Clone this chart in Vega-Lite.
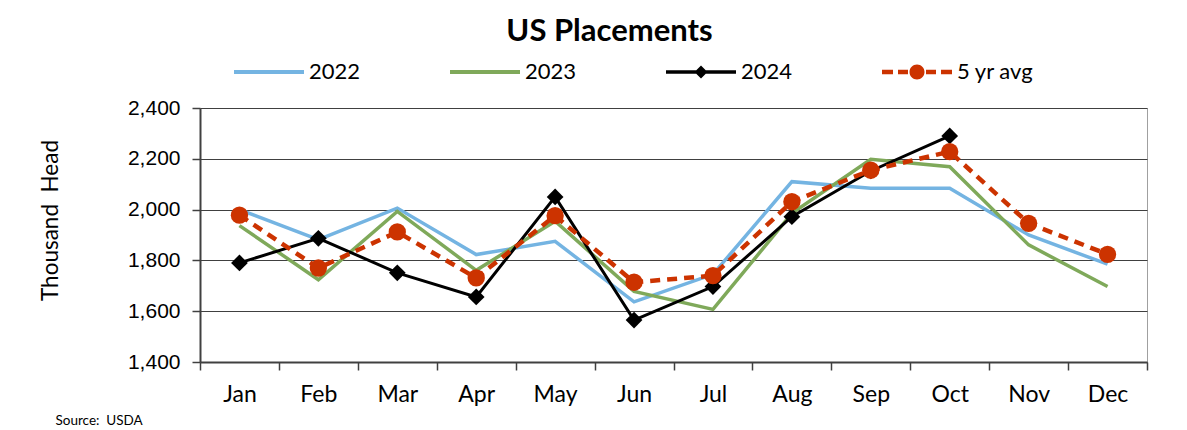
{
  "$schema": "https://vega.github.io/schema/vega-lite/v6.json",
  "width": 947,
  "height": 254,
  "autosize": {"type": "none"},
  "padding": {"left": 200, "top": 108, "right": 40, "bottom": 68},
  "background": "white",
  "title": {
    "text": "US Placements",
    "font": "Lato",
    "fontSize": 31,
    "fontWeight": "bold",
    "color": "black",
    "anchor": "middle",
    "frame": "group",
    "dx": -64,
    "offset": 13
  },
  "data": {
    "values": [
      {"month": "Jan", "series": "2022", "value": 2000},
      {"month": "Feb", "series": "2022", "value": 1882},
      {"month": "Mar", "series": "2022", "value": 2006},
      {"month": "Apr", "series": "2022", "value": 1823},
      {"month": "May", "series": "2022", "value": 1875},
      {"month": "Jun", "series": "2022", "value": 1637},
      {"month": "Jul", "series": "2022", "value": 1745},
      {"month": "Aug", "series": "2022", "value": 2110},
      {"month": "Sep", "series": "2022", "value": 2084},
      {"month": "Oct", "series": "2022", "value": 2084},
      {"month": "Nov", "series": "2022", "value": 1900},
      {"month": "Dec", "series": "2022", "value": 1785},
      {"month": "Jan", "series": "2023", "value": 1937},
      {"month": "Feb", "series": "2023", "value": 1724},
      {"month": "Mar", "series": "2023", "value": 1993},
      {"month": "Apr", "series": "2023", "value": 1761},
      {"month": "May", "series": "2023", "value": 1954},
      {"month": "Jun", "series": "2023", "value": 1678},
      {"month": "Jul", "series": "2023", "value": 1607},
      {"month": "Aug", "series": "2023", "value": 1985},
      {"month": "Sep", "series": "2023", "value": 2198},
      {"month": "Oct", "series": "2023", "value": 2169},
      {"month": "Nov", "series": "2023", "value": 1861},
      {"month": "Dec", "series": "2023", "value": 1697},
      {"month": "Jan", "series": "2024", "value": 1790},
      {"month": "Feb", "series": "2024", "value": 1887},
      {"month": "Mar", "series": "2024", "value": 1751},
      {"month": "Apr", "series": "2024", "value": 1656},
      {"month": "May", "series": "2024", "value": 2050},
      {"month": "Jun", "series": "2024", "value": 1565},
      {"month": "Jul", "series": "2024", "value": 1697},
      {"month": "Aug", "series": "2024", "value": 1972},
      {"month": "Sep", "series": "2024", "value": 2152},
      {"month": "Oct", "series": "2024", "value": 2290},
      {"month": "Jan", "series": "5 yr avg", "value": 1978},
      {"month": "Feb", "series": "5 yr avg", "value": 1770},
      {"month": "Mar", "series": "5 yr avg", "value": 1912},
      {"month": "Apr", "series": "5 yr avg", "value": 1731},
      {"month": "May", "series": "5 yr avg", "value": 1976},
      {"month": "Jun", "series": "5 yr avg", "value": 1714},
      {"month": "Jul", "series": "5 yr avg", "value": 1740},
      {"month": "Aug", "series": "5 yr avg", "value": 2031},
      {"month": "Sep", "series": "5 yr avg", "value": 2155},
      {"month": "Oct", "series": "5 yr avg", "value": 2228},
      {"month": "Nov", "series": "5 yr avg", "value": 1946},
      {"month": "Dec", "series": "5 yr avg", "value": 1824}
    ]
  },
  "encoding": {
    "x": {
      "field": "month",
      "type": "ordinal",
      "bandPosition": 0.5,
      "scale": {
        "type": "band",
        "domain": ["Jan", "Feb", "Mar", "Apr", "May", "Jun", "Jul", "Aug", "Sep", "Oct", "Nov", "Dec"],
        "paddingInner": 0,
        "paddingOuter": 0
      },
      "axis": {
        "title": "Source:\u00a0\u00a0USDA",
        "titleFont": "Lato",
        "titleFontSize": 13.5,
        "titleFontWeight": "normal",
        "titleColor": "black",
        "titleX": -145,
        "titleY": 58,
        "titleAlign": "left",
        "titleBaseline": "middle",
        "titleAngle": 0,
        "labelAngle": 0,
        "labelFont": "Lato",
        "labelFontSize": 23,
        "labelColor": "black",
        "labelPadding": 13,
        "tickBand": "extent",
        "tickSize": 8,
        "tickColor": "#404040",
        "tickWidth": 1.5,
        "domainColor": "#404040",
        "domainWidth": 2,
        "grid": false
      }
    },
    "y": {
      "field": "value",
      "type": "quantitative",
      "scale": {"domain": [1400, 2400], "nice": false, "zero": false},
      "axis": {
        "title": "Thousand\u00a0\u00a0Head",
        "titleFont": "Lato",
        "titleFontSize": 22.5,
        "titleFontWeight": "normal",
        "titleColor": "black",
        "titleX": -150,
        "titleY": 112,
        "titleAngle": -90,
        "titleAlign": "center",
        "titleBaseline": "middle",
        "values": [1400, 1600, 1800, 2000, 2200, 2400],
        "format": ",.0f",
        "labelFont": "Liberation Sans",
        "labelFontSize": 21,
        "labelColor": "black",
        "labelPadding": 12,
        "tickSize": 8,
        "tickColor": "#404040",
        "tickWidth": 1.5,
        "domainColor": "#404040",
        "domainWidth": 2,
        "grid": true,
        "gridColor": "#404040",
        "gridWidth": 1.2
      }
    }
  },
  "layer": [
    {
      "transform": [{"filter": "datum.series == '2022'"}],
      "mark": {"type": "line", "color": "#74B4E2", "strokeWidth": 3.5}
    },
    {
      "transform": [{"filter": "datum.series == '2023'"}],
      "mark": {"type": "line", "color": "#7FA95A", "strokeWidth": 3.5}
    },
    {
      "transform": [{"filter": "datum.series == '2024'"}],
      "mark": {"type": "line", "color": "black", "strokeWidth": 3}
    },
    {
      "transform": [{"filter": "datum.series == '2024'"}],
      "mark": {"type": "point", "shape": "diamond", "filled": true, "color": "black", "size": 280, "opacity": 1}
    },
    {
      "transform": [{"filter": "datum.series == '5 yr avg'"}],
      "mark": {"type": "line", "color": "#CC3300", "strokeWidth": 4.5, "strokeDash": [10, 7]}
    },
    {
      "transform": [{"filter": "datum.series == '5 yr avg'"}],
      "mark": {"type": "point", "shape": "circle", "filled": true, "color": "#CC3300", "size": 300, "opacity": 1}
    },
    {
      "transform": [{"filter": "datum.series == 'none'"}],
      "mark": {"type": "point", "filled": true, "opacity": 1},
      "encoding": {
        "fill": {
          "field": "series",
          "type": "nominal",
          "scale": {"domain": ["2022", "2023", "2024", "5 yr avg"], "range": ["#74B4E2", "#7FA95A", "black", "#CC3300"]},
          "legend": {"title": null}
        },
        "shape": {
          "field": "series",
          "type": "nominal",
          "scale": {
            "domain": ["2022", "2023", "2024", "5 yr avg"],
            "range": [
              "M-1,-0.2H6V0.2H-1Z",
              "M-1,-0.2H6V0.2H-1Z",
              "M-1,-0.18H6V0.18H-1Z M2.5,-0.65L3.15,0L2.5,0.65L1.85,0Z",
              "M-1,-0.22H0.1V0.22H-1Z M0.6,-0.22H1.6V0.22H0.6Z M1.75,0A0.75,0.75 0 1,0 3.25,0A0.75,0.75 0 1,0 1.75,0Z M3.4,-0.22H4.4V0.22H3.4Z M4.9,-0.22H6V0.22H4.9Z"
            ]
          },
          "legend": {"title": null}
        }
      }
    }
  ],
  "config": {
    "view": {"stroke": "#a0a0a0", "strokeWidth": 1},
    "legend": {
      "orient": "none",
      "legendX": 33,
      "legendY": -47,
      "direction": "horizontal",
      "padding": 0,
      "symbolSize": 400,
      "symbolStrokeWidth": 0,
      "symbolOpacity": 1,
      "labelFont": "Lato",
      "labelFontSize": 22,
      "labelColor": "black",
      "labelOffset": 54,
      "columnPadding": 88,
      "labelLimit": 200
    }
  }
}
